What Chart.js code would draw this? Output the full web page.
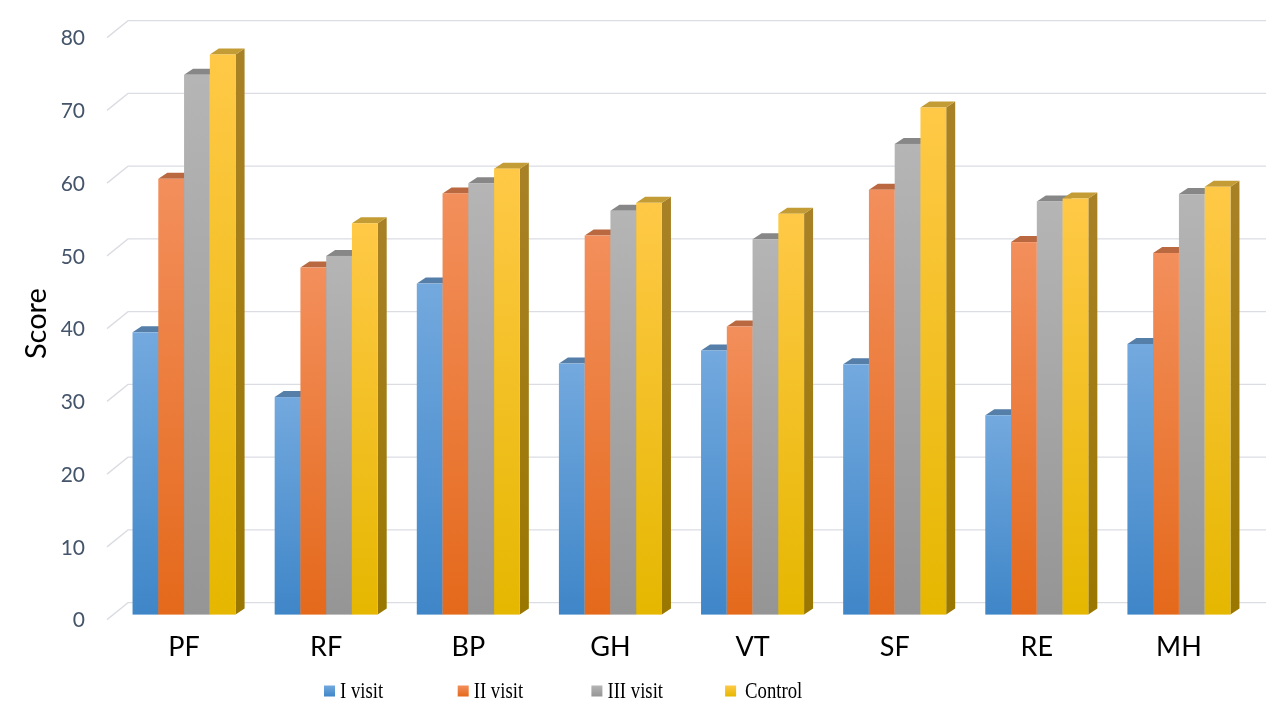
<!DOCTYPE html>
<html lang="en">
<head>
<meta charset="UTF-8">
<title>Score by visit</title>
<script src="https://cdn.jsdelivr.net/npm/chart.js"></script>
<style>
  html, body { margin: 0; background: #fff; }
  #wrap { width: 1280px; height: 720px; }
</style>
</head>
<body>
<div id="wrap"><canvas id="myChart"></canvas></div>
<script>
// data
const categories = ['PF', 'RF', 'BP', 'GH', 'VT', 'SF', 'RE', 'MH'];
const seriesNames = ['I visit', 'II visit', 'III visit', 'Control'];
const visit1 = [38.8, 29.9, 45.5, 34.5, 36.3, 34.4, 27.4, 37.2];
const visit2 = [59.9, 47.7, 57.9, 52.1, 39.6, 58.4, 51.2, 49.7];
const visit3 = [74.2, 49.3, 59.3, 55.5, 51.6, 64.7, 56.8, 57.8];
const control = [77.0, 53.8, 61.3, 56.6, 55.1, 69.7, 57.2, 58.8];
const yTicks = [0, 10, 20, 30, 40, 50, 60, 70, 80];

// colours: front gradient (top, bottom), top face, side gradient (top, bottom)
const palette = [
    { front: ['#73a9de', '#3f86c8'], top: '#557ea9', side: ['#4a76a3', '#35618f'] },
    { front: ['#f38f5c', '#e4691b'], top: '#b9683f', side: ['#b45e2e', '#a3501a'] },
    { front: ['#b5b5b5', '#959595'], top: '#878787', side: ['#7f7f7f', '#6e6e6e'] },
    { front: ['#ffc947', '#e5b700'], top: '#c49c35', side: ['#a88126', '#9a7700'] }
];
const depthX = 9, depthY = 6;

function vGrad(ctx, y0, y1, c) {
    const g = ctx.createLinearGradient(0, y0, 0, y1);
    g.addColorStop(0, c[0]);
    g.addColorStop(1, c[1]);
    return g;
}

// back-wall grid lines with the slanted floor edge
const wallGrid = {
    id: 'wallGrid',
    beforeDatasetsDraw(chart) {
        const { ctx, chartArea, scales } = chart;
        ctx.save();
        ctx.strokeStyle = '#dcdde3';
        ctx.lineWidth = 1.4;
        yTicks.forEach(v => {
            const py = scales.y.getPixelForValue(v);
            ctx.beginPath();
            ctx.moveTo(chartArea.left - 6, py + 5);
            ctx.lineTo(chartArea.left + 15, py - 12);
            ctx.lineTo(chartArea.right + 16, py - 12);
            ctx.stroke();
        });
        ctx.restore();
    }
};

// draw every bar as a small box: side, top, then front
const boxes = {
    id: 'boxes',
    afterDatasetsDraw(chart) {
        const ctx = chart.ctx;
        ctx.save();
        chart.data.datasets.forEach((ds, i) => {
            const meta = chart.getDatasetMeta(i);
            const col = palette[i];
            meta.data.forEach(el => {
                const { x, y, base, width } = el.getProps(['x', 'y', 'base', 'width'], true);
                const l = x - width / 2, r = x + width / 2;
                // side
                ctx.fillStyle = vGrad(ctx, y, base, col.side);
                ctx.beginPath();
                ctx.moveTo(r, y);
                ctx.lineTo(r + depthX, y - depthY);
                ctx.lineTo(r + depthX, base - depthY);
                ctx.lineTo(r, base);
                ctx.closePath();
                ctx.fill();
                // top
                ctx.fillStyle = col.top;
                ctx.beginPath();
                ctx.moveTo(l, y);
                ctx.lineTo(l + depthX, y - depthY);
                ctx.lineTo(r + depthX, y - depthY);
                ctx.lineTo(r, y);
                ctx.closePath();
                ctx.fill();
                // front
                ctx.fillStyle = vGrad(ctx, y, base, col.front);
                ctx.fillRect(l, y, width, base - y);
            });
        });
        ctx.restore();
    }
};

// legend drawn by hand so the items sit where the original has them
const bottomLegend = {
    id: 'bottomLegend',
    afterDraw(chart) {
        const ctx = chart.ctx;
        const startX = 324, step = 133.7, cy = 691, box = 11;
        seriesNames.forEach((name, i) => {
            const bx = startX + i * step;
            ctx.save();
            ctx.fillStyle = vGrad(ctx, cy - box / 2, cy + box / 2, palette[i].front);
            ctx.fillRect(bx, cy - box / 2, box, box);
            // narrow serif text, like the original
            ctx.translate(bx + box + (i === 3 ? 9 : 5), cy);
            ctx.scale(0.78, 1);
            ctx.font = '24px "Liberation Serif"';
            ctx.textBaseline = 'middle';
            ctx.fillStyle = '#000';
            ctx.fillText(name, 0, 1);
            ctx.restore();
        });
    }
};

const ctx = document.getElementById('myChart').getContext('2d');
const myChart = new Chart(ctx, {
    type: 'bar',
    data: {
        labels: categories,
        datasets: [visit1, visit2, visit3, control].map((vals, i) => ({
            label: seriesNames[i],
            data: vals,
            backgroundColor: 'rgba(0,0,0,0)',
            borderWidth: 0,
            categoryPercentage: 0.725,
            barPercentage: 1
        }))
    },
    options: {
        responsive: true,
        maintainAspectRatio: false,
        animation: false,
        layout: { padding: { top: 20, right: 30, bottom: 49, left: 0 } },
        scales: {
            x: {
                grid: { display: false },
                border: { display: false },
                ticks: { color: '#000', font: { family: 'Lato', size: 27 }, padding: 8 }
            },
            y: {
                min: 0,
                max: 80,
                afterFit(scale) { scale.width = 113; },
                afterBuildTicks(scale) { scale.ticks = yTicks.map(v => ({ value: v })); },
                grid: { display: false },
                border: { display: false },
                ticks: { color: '#44546a', font: { family: 'Lato', size: 21 }, padding: 20, labelOffset: 6 },
                title: {
                    display: true,
                    text: 'Score',
                    color: '#000',
                    font: { family: 'Lato', size: 29 },
                    padding: { top: 19, bottom: 0 }
                }
            }
        },
        plugins: {
            legend: { display: false },
            tooltip: { enabled: false }
        }
    },
    plugins: [wallGrid, boxes, bottomLegend]
});
</script>
</body>
</html>
